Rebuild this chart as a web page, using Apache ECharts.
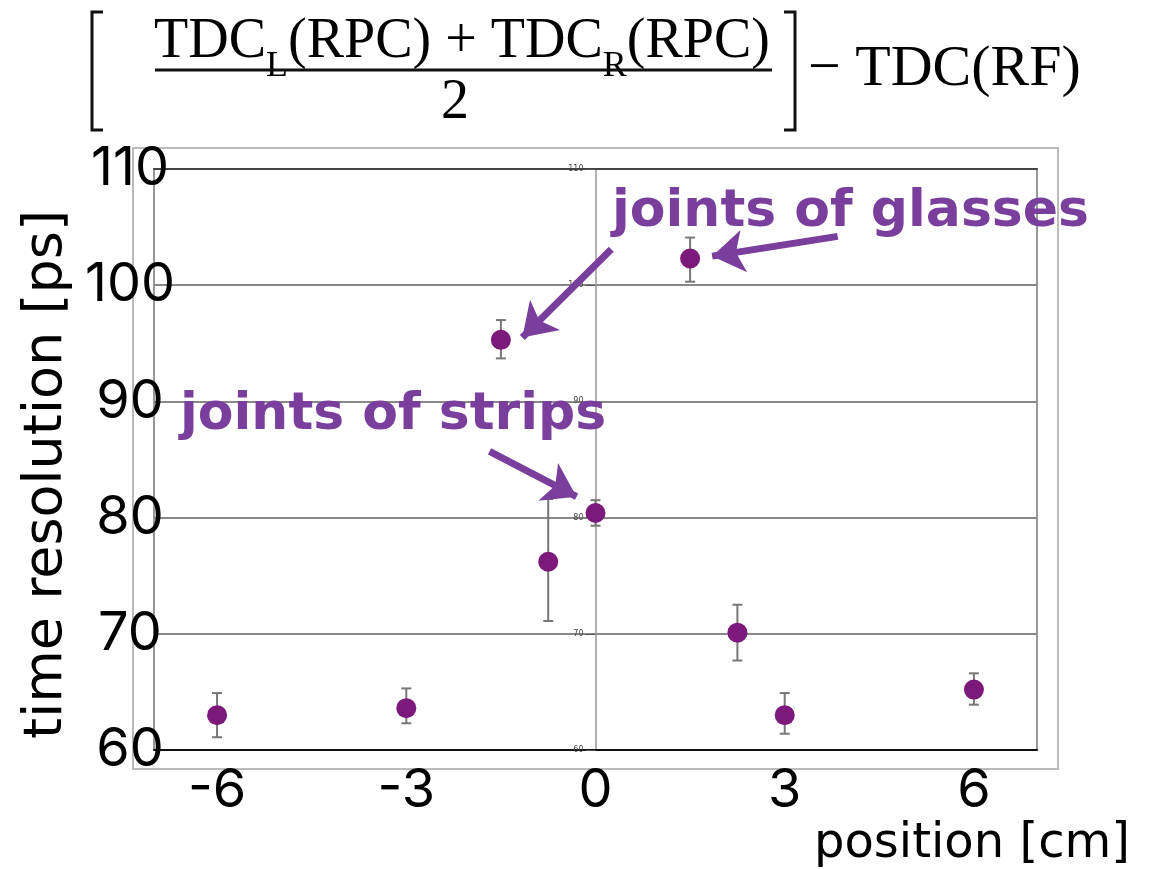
<!DOCTYPE html>
<html>
<head>
<meta charset="utf-8">
<script src="https://cdn.jsdelivr.net/npm/echarts@6/dist/echarts.min.js"></script>
<style>
html,body{margin:0;padding:0;background:#fff;}
#chart{width:1151px;height:869px;}
</style>
</head>
<body>
<div id="chart"></div>
<script>
// ---- data ----
const positions = [-6, -3, -1.5, -0.75, 0, 1.5, 2.25, 3, 6];
const resolution = [63.0, 63.6, 95.3, 76.2, 80.4, 102.3, 70.1, 63.0, 65.2];
const errLow = [61.1, 62.3, 93.7, 71.1, 79.3, 100.3, 67.7, 61.4, 63.9];
const errHigh = [64.9, 65.3, 97.0, 81.6, 81.5, 104.1, 72.5, 64.9, 66.6];
const xTicks = [-6, -3, 0, 3, 6];
const yTicks = [60, 70, 80, 90, 100, 110];
// annotation arrows in data units: [start, tip]
const arrowGlasses1 = [[3.84, 104.2], [1.85, 102.5]];
const arrowGlasses2 = [[0.25, 103.1], [-1.16, 95.5]];
const arrowStrips = [[-1.68, 85.7], [-0.30, 81.8]];
const labelGlasses = 'joints of glasses';
const labelStrips = 'joints of strips';

const PURPLE = '#7a3e9d';
const GRID_LEFT = 154;
const chart = echarts.init(document.getElementById('chart'), null, {renderer: 'canvas'});

function arrowLine(a) {
  return [{coord: a[0], symbol: 'none'}, {coord: a[1], symbol: 'arrow'}];
}

const numFont = "Inter, 'Noto Sans', sans-serif";
const wideFont = "'DejaVu Sans', sans-serif";
const serif = "'Liberation Serif', 'DejaVu Serif', serif";

chart.setOption({
  animation: false,
  backgroundColor: '#fff',
  grid: {left: GRID_LEFT, top: 169, right: 114, bottom: 119, show: true,
         borderColor: '#999', borderWidth: 2, containLabel: false, outerBoundsMode: 'none'},
  xAxis: [{
    type: 'value', min: -7, max: 7,
    axisLine: {onZero: false, lineStyle: {color: '#111', width: 2}},
    axisTick: {show: false},
    splitLine: {show: false},
    axisLabel: {customValues: xTicks, fontSize: 54, color: '#000', fontFamily: numFont,
                margin: 14, formatter: v => String(v)}
  }, {
    type: 'value', min: -7, max: 7, position: 'top',
    axisLine: {onZero: false, lineStyle: {color: '#444', width: 2}},
    axisTick: {show: false}, axisLabel: {show: false}, splitLine: {show: false}
  }],
  yAxis: [{
    type: 'value', min: 60, max: 110, interval: 10, position: 'left',
    axisLine: {show: true, onZero: false, lineStyle: {color: '#999', width: 1.5}},
    axisTick: {show: true, length: 10, lineStyle: {color: '#555', width: 1}},
    axisLabel: {fontSize: 8, color: '#444', margin: 12, fontFamily: "'DejaVu Sans', sans-serif"},
    splitLine: {show: true, lineStyle: {color: '#888', width: 2}}
  }, {
    type: 'value', min: 60, max: 110, interval: 10, position: 'left',
    name: 'time resolution [ps]', nameLocation: 'middle', nameGap: 80,
    nameTextStyle: {fontSize: 54, color: '#000', fontFamily: wideFont, padding: [0, 30, 0, 0]},
    axisLine: {show: false, onZero: false}, axisTick: {show: false}, splitLine: {show: false},
    axisLabel: {fontSize: 54, color: '#000', fontFamily: numFont, align: 'center', margin: 24}
  }],
  graphic: [
    {type: 'rect', z: -10, shape: {x: 133, y: 148, width: 925, height: 621},
     style: {fill: 'none', stroke: '#bbb', lineWidth: 2}},
    {type: 'text', x: 1130, y: 845, z: 10,
     style: {text: 'position [cm]', fontSize: 48, fill: '#000', fontFamily: wideFont,
             textAlign: 'right', textVerticalAlign: 'middle'}},
    {type: 'text', x: 612, y: 212, z: 10,
     style: {text: labelGlasses, fontSize: 52, fontWeight: 'bold', fill: PURPLE, fontFamily: wideFont,
             textAlign: 'left', textVerticalAlign: 'middle'}},
    {type: 'text', x: 180, y: 415, z: 10,
     style: {text: labelStrips, fontSize: 52, fontWeight: 'bold', fill: PURPLE, fontFamily: wideFont,
             textAlign: 'left', textVerticalAlign: 'middle'}},
    // formula
    {type: 'text', x: 462, y: 14, z: 10,
     style: {text: '{t|TDC}{s|L}{t|(RPC) + TDC}{s|R}{t|(RPC)}',
             textAlign: 'center', textVerticalAlign: 'top',
             rich: {
               t: {fontSize: 56, fontFamily: serif, fill: '#000', lineHeight: 62, verticalAlign: 'top'},
               s: {fontSize: 36, fontFamily: serif, fill: '#000', lineHeight: 36, verticalAlign: 'top', padding: [35, 0, 0, 0]}
             }}},
    {type: 'line', z: 10, shape: {x1: 155, y1: 70, x2: 772, y2: 70}, style: {stroke: '#111', lineWidth: 3}},
    {type: 'text', x: 455, y: 103, z: 10,
     style: {text: '2', fontSize: 56, fontFamily: serif, fill: '#000', textAlign: 'center', textVerticalAlign: 'middle'}},
    {type: 'polyline', z: 10, shape: {points: [[103, 12], [92, 12], [92, 130], [103, 130]]},
     style: {stroke: '#111', lineWidth: 3, fill: 'none'}},
    {type: 'polyline', z: 10, shape: {points: [[784, 12], [795, 12], [795, 130], [784, 130]]},
     style: {stroke: '#111', lineWidth: 3, fill: 'none'}},
    {type: 'text', x: 808, y: 70, z: 10,
     style: {text: '\u2212 TDC(RF)', fontSize: 58, fontFamily: serif, fill: '#000', textAlign: 'left',
             textVerticalAlign: 'middle', letterSpacing: 5}}
  ],
  series: [{
    type: 'custom',
    name: 'error',
    xAxisIndex: 0, yAxisIndex: 0,
    data: positions.map((x, i) => [x, errLow[i], errHigh[i]]),
    encode: {x: 0, y: [1, 2]},
    z: 3,
    renderItem: function (params, api) {
      const x = api.value(0);
      const lo = api.coord([x, api.value(1)]);
      const hi = api.coord([x, api.value(2)]);
      const w = 5;
      const st = {stroke: '#777', lineWidth: 2};
      return {type: 'group', children: [
        {type: 'line', shape: {x1: hi[0], y1: hi[1], x2: lo[0], y2: lo[1]}, style: st},
        {type: 'line', shape: {x1: hi[0] - w, y1: hi[1], x2: hi[0] + w, y2: hi[1]}, style: st},
        {type: 'line', shape: {x1: lo[0] - w, y1: lo[1], x2: lo[0] + w, y2: lo[1]}, style: st}
      ]};
    }
  }, {
    type: 'scatter',
    name: 'resolution',
    xAxisIndex: 0, yAxisIndex: 0,
    data: positions.map((x, i) => [x, resolution[i]]),
    symbol: 'circle', symbolSize: 20,
    itemStyle: {color: '#7b1a7b', opacity: 1},
    z: 5,
    markLine: {
      silent: true, animation: false,
      symbol: ['none', 'arrow'], symbolSize: 32,
      label: {show: false},
      lineStyle: {color: PURPLE, width: 7, type: 'solid'},
      emphasis: {disabled: true},
      data: [arrowLine(arrowGlasses1), arrowLine(arrowGlasses2), arrowLine(arrowStrips)]
    }
  }]
});

// move the inner y axis (small labels) onto x = 0 using the library's own scale
const zeroX = chart.convertToPixel({xAxisIndex: 0}, 0);
chart.setOption({yAxis: [{offset: -(zeroX - GRID_LEFT)}, {}]});
</script>
</body>
</html>
